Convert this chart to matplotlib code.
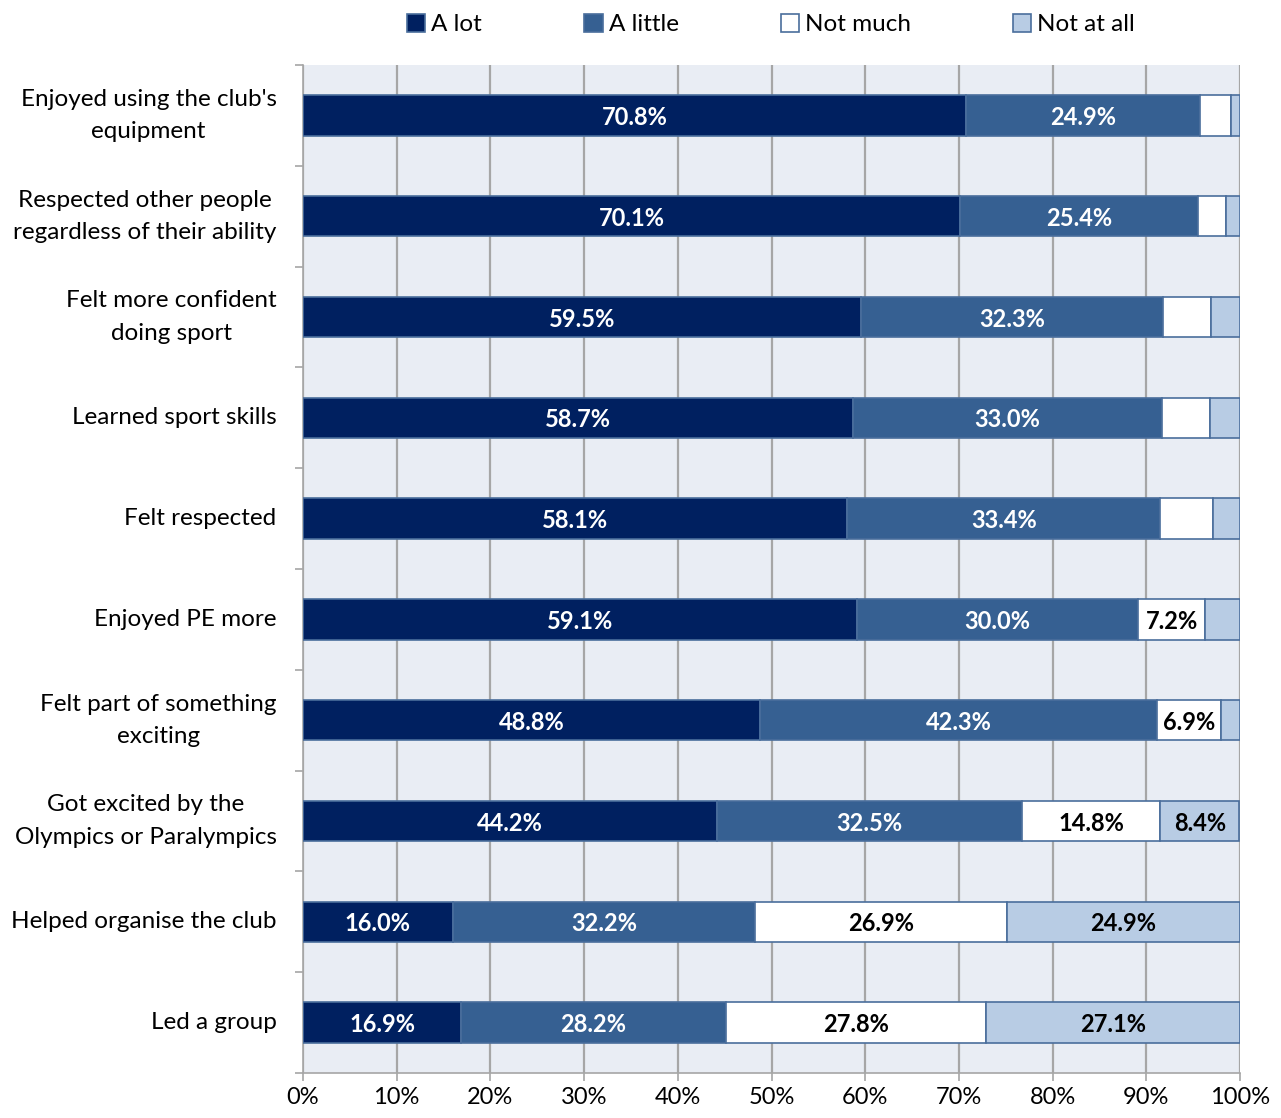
import matplotlib.pyplot as plt
from matplotlib.ticker import FixedLocator, PercentFormatter
import numpy as np

plt.rcParams['font.family'] = ['Lato', 'DejaVu Sans']

categories = [
    "Enjoyed using the club's\nequipment",
    "Respected other people\nregardless of their ability",
    "Felt more confident\ndoing sport",
    "Learned sport skills",
    "Felt respected",
    "Enjoyed PE more",
    "Felt part of something\nexciting",
    "Got excited by the\nOlympics or Paralympics",
    "Helped organise the club",
    "Led a group",
]
series_names = ["A lot", "A little", "Not much", "Not at all"]
a_lot = [70.8, 70.1, 59.5, 58.7, 58.1, 59.1, 48.8, 44.2, 16.0, 16.9]
a_little = [24.9, 25.4, 32.3, 33.0, 33.4, 30.0, 42.3, 32.5, 32.2, 28.2]
not_much = [3.3, 3.0, 5.1, 5.1, 5.6, 7.2, 6.9, 14.8, 26.9, 27.8]
not_at_all = [1.0, 1.5, 3.1, 3.2, 2.9, 3.7, 2.0, 8.4, 24.9, 27.1]
# which values get a printed label (small ones are unlabelled in the original)
label_min = [10.0, 10.0, 6.0, 8.0]

colors = ['#002060', '#366092', '#FFFFFF', '#B8CCE4']
text_colors = ['white', 'white', 'black', 'black']

fig = plt.figure(figsize=(12.81, 11.18), dpi=100)
ax = fig.add_axes([303 / 1281, 1 - 1073 / 1118, (1240 - 303) / 1281, (1073 - 65) / 1118])
ax.set_facecolor('#E9EDF4')

y = np.arange(len(categories))
left = np.zeros(len(categories))
for name, vals, col, tcol, lm in zip(series_names, [a_lot, a_little, not_much, not_at_all],
                                     colors, text_colors, label_min):
    vals = np.array(vals)
    ax.barh(y, vals, left=left, height=0.4, color=col, edgecolor='#4A6E9C',
            linewidth=1.2, label=name, zorder=3)
    for yi, l, v in zip(y, left, vals):
        if v >= lm:
            ax.text(l + v / 2, yi + 0.02, f"{v:.1f}%", ha='center', va='center',
                    color=tcol, fontsize=17, fontweight='bold', zorder=4)
    left += vals

ax.set_xlim(0, 100)
ax.set_ylim(len(categories) - 0.5, -0.5)
ax.xaxis.set_major_locator(FixedLocator(np.arange(0, 101, 10)))
ax.xaxis.set_major_formatter(PercentFormatter(decimals=0))
ax.grid(axis='x', color='#A6A6A6', linewidth=1.6, zorder=1)

ax.set_yticks(y)
ax.set_yticklabels(categories, fontsize=17.5)
for lbl in ax.get_yticklabels():
    lbl.set_multialignment('center')
    lbl.set_linespacing(1.65)
    lbl.set_verticalalignment('center')
ax.yaxis.set_minor_locator(FixedLocator(np.arange(-0.5, len(categories), 1)))
ax.tick_params(axis='y', which='major', length=0, pad=19)
ax.tick_params(axis='y', which='minor', length=6, color='#A6A6A6', width=1.2)
ax.tick_params(axis='x', labelsize=17, length=6, color='#A6A6A6', width=1.2, pad=4)

for s in ['top', 'right']:
    ax.spines[s].set_visible(False)
for s in ['left', 'bottom']:
    ax.spines[s].set_color('#A6A6A6')
    ax.spines[s].set_linewidth(1.2)

fig.legend(loc='upper center', bbox_to_anchor=(0.602, 1.007), ncol=4, frameon=False,
           fontsize=17.5, handlelength=0.75, handleheight=0.75, handletextpad=0.25,
           columnspacing=4.2)

fig.savefig('out.png', dpi=100)
